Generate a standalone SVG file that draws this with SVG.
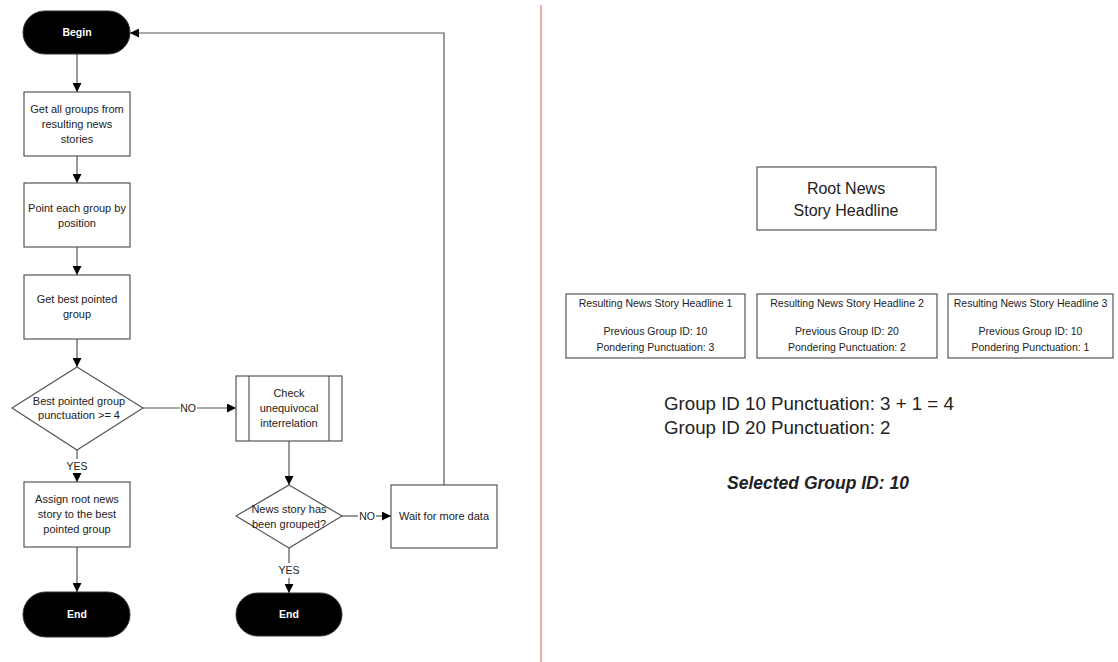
<svg xmlns="http://www.w3.org/2000/svg" width="1118" height="662" viewBox="0 0 1118 662">
  <defs>
    <marker id="arrow" viewBox="0 0 10 10" refX="10" refY="5" markerWidth="9" markerHeight="9" markerUnits="userSpaceOnUse" orient="auto">
      <path d="M0,0 L10,5 L0,10 z" fill="#000"/>
    </marker>
    <style>
      .box { fill: #fff; stroke: #555; stroke-width: 1.2; }
      .term { fill: #000; stroke: #333; stroke-width: 1; }
      .t { font-family: "Liberation Sans", Arial, sans-serif; font-size: 11px; fill: #222; text-anchor: middle; }
      .tw { font-family: "Liberation Sans", Arial, sans-serif; font-size: 10.5px; font-weight: bold; fill: #fff; text-anchor: middle; }
      .lbl { font-family: "Liberation Sans", Arial, sans-serif; font-size: 10.5px; fill: #222; text-anchor: middle; }
      .conn { fill: none; stroke: #555; stroke-width: 1.2; }
      .s { font-family: "Liberation Sans", Arial, sans-serif; font-size: 10.5px; fill: #222; text-anchor: middle; }
      .big { font-family: "Liberation Sans", Arial, sans-serif; font-size: 18.7px; fill: #222; }
    </style>
  </defs>

  <!-- divider between the flowchart and the worked example -->
  <line x1="541" y1="5" x2="541" y2="662" stroke="#f08c8c" stroke-width="1.5"/>

  <!-- connectors -->
  <g id="connectors">
    <line class="conn" x1="77" y1="54" x2="77" y2="92" marker-end="url(#arrow)"/>
    <line class="conn" x1="77" y1="156" x2="77" y2="183" marker-end="url(#arrow)"/>
    <line class="conn" x1="77" y1="247" x2="77" y2="275" marker-end="url(#arrow)"/>
    <line class="conn" x1="77" y1="339" x2="77" y2="367" marker-end="url(#arrow)"/>
    <line class="conn" x1="77" y1="450" x2="77" y2="459"/>
    <line class="conn" x1="77" y1="473" x2="77" y2="482" marker-end="url(#arrow)"/>
    <text class="lbl" x="77" y="470">YES</text>
    <line class="conn" x1="77" y1="547" x2="77" y2="592" marker-end="url(#arrow)"/>
    <line class="conn" x1="143" y1="408" x2="180" y2="408"/>
    <text class="lbl" x="188" y="412">NO</text>
    <line class="conn" x1="197" y1="408" x2="236" y2="408" marker-end="url(#arrow)"/>
    <line class="conn" x1="289" y1="441" x2="289" y2="485" marker-end="url(#arrow)"/>
    <line class="conn" x1="342" y1="516" x2="358" y2="516"/>
    <text class="lbl" x="367" y="520">NO</text>
    <line class="conn" x1="376" y1="516" x2="391" y2="516" marker-end="url(#arrow)"/>
    <line class="conn" x1="289" y1="548" x2="289" y2="563"/>
    <text class="lbl" x="289" y="574">YES</text>
    <line class="conn" x1="289" y1="578" x2="289" y2="593" marker-end="url(#arrow)"/>
    <polyline class="conn" points="444,485 444,33 130,33" marker-end="url(#arrow)"/>
  </g>

  <g id="begin">
    <rect class="term" x="23" y="11" width="107" height="43" rx="21.5"/>
    <text class="tw" x="77" y="36">Begin</text>
  </g>
  <g id="get-groups">
    <rect class="box" x="24" y="92" width="106" height="64"/>
    <text class="t" x="77" y="113">Get all groups from</text>
    <text class="t" x="77" y="128">resulting news</text>
    <text class="t" x="77" y="143">stories</text>
  </g>
  <g id="point-groups">
    <rect class="box" x="24" y="183" width="106" height="64"/>
    <text class="t" x="77" y="212">Point each group by</text>
    <text class="t" x="77" y="227">position</text>
  </g>
  <g id="best-group">
    <rect class="box" x="24" y="275" width="106" height="64"/>
    <text class="t" x="77" y="303">Get best pointed</text>
    <text class="t" x="77" y="318">group</text>
  </g>
  <g id="decision-punctuation">
    <polygon class="box" points="77,367 143,408 77,450 12,408"/>
    <text class="t" x="79" y="405">Best pointed group</text>
    <text class="t" x="79" y="419">punctuation &gt;= 4</text>
  </g>
  <g id="assign-root">
    <rect class="box" x="24" y="482" width="106" height="65"/>
    <text class="t" x="77" y="503">Assign root news</text>
    <text class="t" x="77" y="518">story to the best</text>
    <text class="t" x="77" y="533">pointed group</text>
  </g>
  <g id="end-1">
    <rect class="term" x="23" y="592" width="107" height="45" rx="22.5"/>
    <text class="tw" x="77" y="618">End</text>
  </g>
  <g id="check-interrelation">
    <rect class="box" x="236" y="376" width="106" height="65"/>
    <line class="conn" x1="249" y1="376" x2="249" y2="441"/>
    <line class="conn" x1="329" y1="376" x2="329" y2="441"/>
    <text class="t" x="289" y="397">Check</text>
    <text class="t" x="289" y="412">unequivocal</text>
    <text class="t" x="289" y="427">interrelation</text>
  </g>
  <g id="decision-grouped">
    <polygon class="box" points="289,485 342,516 289,548 236,516"/>
    <text class="t" x="289" y="513">News story  has</text>
    <text class="t" x="289" y="528">been grouped?</text>
  </g>
  <g id="wait">
    <rect class="box" x="391" y="485" width="106" height="63"/>
    <text class="t" x="444" y="520">Wait for more data</text>
  </g>
  <g id="end-2">
    <rect class="term" x="236" y="593" width="106" height="43" rx="21.5"/>
    <text class="tw" x="289" y="618">End</text>
  </g>

  <!-- worked example -->
  <g id="root-news">
    <rect class="box" x="757" y="167" width="179" height="63"/>
    <text class="t" x="846" y="194" style="font-size:16px">Root News</text>
    <text class="t" x="846" y="216" style="font-size:16px">Story Headline</text>
  </g>
  <g id="headline-1">
    <rect class="box" x="566" y="294" width="179" height="64"/>
    <text class="s" x="655.5" y="307">Resulting News Story  Headline 1</text>
    <text class="s" x="655.5" y="335">Previous Group ID: 10</text>
    <text class="s" x="655.5" y="351">Pondering Punctuation: 3</text>
  </g>
  <g id="headline-2">
    <rect class="box" x="757" y="294" width="180" height="64"/>
    <text class="s" x="847" y="307">Resulting News Story  Headline 2</text>
    <text class="s" x="847" y="335">Previous Group ID: 20</text>
    <text class="s" x="847" y="351">Pondering Punctuation: 2</text>
  </g>
  <g id="headline-3">
    <rect class="box" x="948" y="294" width="165" height="64"/>
    <text class="s" x="1030.5" y="307">Resulting News Story Headline 3</text>
    <text class="s" x="1030.5" y="335">Previous Group ID: 10</text>
    <text class="s" x="1030.5" y="351">Pondering Punctuation: 1</text>
  </g>
  <g id="totals">
    <text class="big" x="664" y="410">Group ID 10 Punctuation: 3 + 1 = 4</text>
    <text class="big" x="664" y="434">Group ID 20 Punctuation: 2</text>
    <text class="big" x="818" y="489" text-anchor="middle" font-weight="bold" font-style="italic" style="font-size:17.5px">Selected Group ID: 10</text>
  </g>
</svg>
